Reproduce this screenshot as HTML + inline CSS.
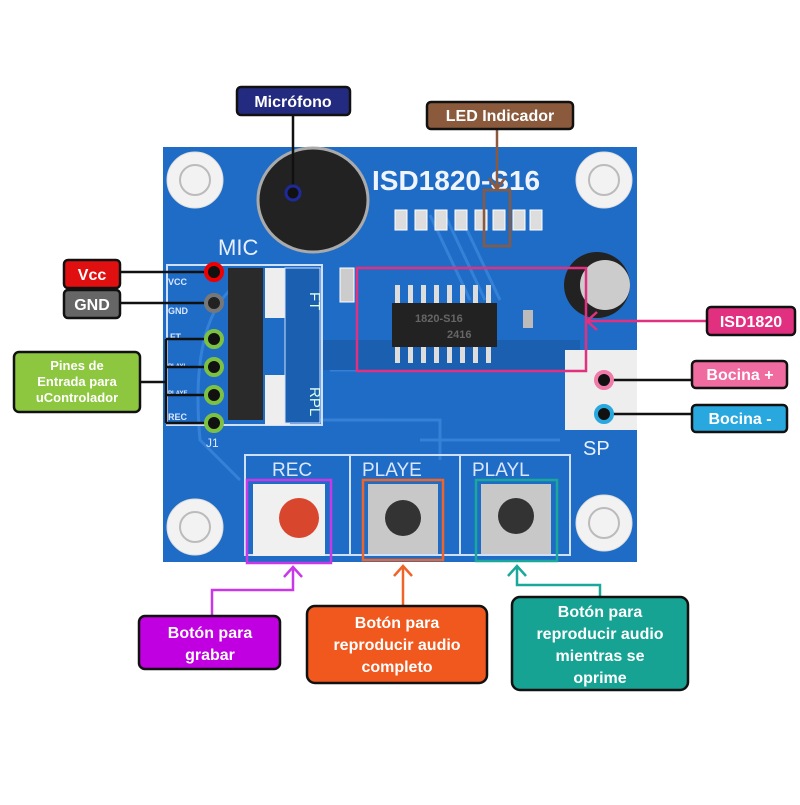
<!DOCTYPE html>
<html><head><meta charset="utf-8"><style>
html,body{margin:0;padding:0;background:#fff;}
svg text{font-family:"Liberation Sans",sans-serif;font-weight:bold;}
</style></head><body>
<svg width="800" height="800" viewBox="0 0 800 800" xmlns="http://www.w3.org/2000/svg">
<rect width="800" height="800" fill="#fff"/>
<!-- board -->
<rect x="163" y="147" width="474" height="415" fill="#1f6cc6"/>
<g fill="none" stroke="#3e8ae0" stroke-width="3" opacity="0.7">
<path d="M230 290 Q190 330 200 440 L240 480"/>
<path d="M300 420 L440 420 L440 460"/>
<path d="M420 440 L560 440"/>
<path d="M330 370 L560 370"/>
<path d="M430 215 L470 300"/><path d="M445 215 L485 300"/><path d="M460 215 L500 300"/>
</g>
<rect x="300" y="340" width="280" height="30" fill="#1a5fb0"/>
<!-- holes -->
<g fill="#f2f2f2" stroke="#ddd"><circle cx="195" cy="180" r="28"/><circle cx="604" cy="180" r="28"/><circle cx="195" cy="527" r="28"/><circle cx="604" cy="523" r="28"/></g>
<g fill="none" stroke="#bbb" stroke-width="2"><circle cx="195" cy="180" r="15"/><circle cx="604" cy="180" r="15"/><circle cx="195" cy="527" r="15"/><circle cx="604" cy="523" r="15"/></g>
<!-- mic -->
<ellipse cx="313" cy="200" rx="55" ry="52" fill="#222" stroke="#aaa" stroke-width="3"/>
<text x="218" y="255" fill="#e8f0ff" font-size="22" font-weight="normal" style="font-weight:normal">MIC</text>
<text x="372" y="190" fill="#f0f4ff" font-size="28">ISD1820-S16</text>
<!-- resistors -->
<g fill="#ddd" stroke="#fff"><rect x="395" y="210" width="12" height="20"/><rect x="415" y="210" width="12" height="20"/><rect x="435" y="210" width="12" height="20"/><rect x="455" y="210" width="12" height="20"/><rect x="475" y="210" width="12" height="20"/><rect x="493" y="210" width="12" height="20"/><rect x="513" y="210" width="12" height="20"/><rect x="530" y="210" width="12" height="20"/></g>
<!-- capacitor -->
<circle cx="597" cy="285" r="33" fill="#222"/><circle cx="605" cy="285" r="25" fill="#ccc"/>
<rect x="340" y="268" width="14" height="34" fill="#ccc" stroke="#fff"/>
<rect x="523" y="310" width="10" height="18" fill="#bbb"/>
<!-- chip -->
<g fill="#ddd"><rect x="395" y="285" width="5" height="20"/><rect x="408" y="285" width="5" height="20"/><rect x="421" y="285" width="5" height="20"/><rect x="434" y="285" width="5" height="20"/><rect x="447" y="285" width="5" height="20"/><rect x="460" y="285" width="5" height="20"/><rect x="473" y="285" width="5" height="20"/><rect x="486" y="285" width="5" height="20"/>
<rect x="395" y="345" width="5" height="18"/><rect x="408" y="345" width="5" height="18"/><rect x="421" y="345" width="5" height="18"/><rect x="434" y="345" width="5" height="18"/><rect x="447" y="345" width="5" height="18"/><rect x="460" y="345" width="5" height="18"/><rect x="473" y="345" width="5" height="18"/><rect x="486" y="345" width="5" height="18"/></g>
<rect x="392" y="303" width="105" height="44" fill="#222"/>
<text x="415" y="322" fill="#666" font-size="11">1820-S16</text><text x="447" y="338" fill="#666" font-size="11">2416</text>
<!-- header -->
<rect x="167" y="265" width="155" height="160" fill="none" stroke="#cfe0ff" stroke-width="2"/>
<rect x="228" y="268" width="35" height="152" fill="#2a2a2a"/>
<rect x="265" y="268" width="25" height="50" fill="#eee"/><rect x="265" y="375" width="25" height="50" fill="#eee"/>
<rect x="285" y="268" width="35" height="155" fill="#1a5fb0" stroke="#cfe0ff"/>
<text x="292" y="290" fill="#dfe" font-size="15" transform="rotate(90 300 300)" style="font-weight:normal">FT</text>
<text x="292" y="385" fill="#dfe" font-size="15" transform="rotate(90 300 395)" style="font-weight:normal">RPL</text>
<g fill="#dbe7ff" font-size="9"><text x="168" y="285">VCC</text><text x="168" y="314">GND</text><text x="170" y="340">FT</text><text x="168" y="368" font-size="6">PLAYL</text><text x="168" y="395" font-size="6">PLAYE</text><text x="168" y="420">REC</text></g>
<text x="206" y="447" fill="#dbe7ff" font-size="12" style="font-weight:normal">J1</text>
<!-- speaker conn -->
<rect x="565" y="350" width="72" height="80" fill="#eee"/>
<text x="583" y="455" fill="#e8f0ff" font-size="20" style="font-weight:normal">SP</text>
<!-- button area -->
<rect x="245" y="455" width="325" height="100" fill="none" stroke="#cfe0ff" stroke-width="2"/>
<line x1="350" y1="455" x2="350" y2="555" stroke="#cfe0ff" stroke-width="2"/><line x1="460" y1="455" x2="460" y2="555" stroke="#cfe0ff" stroke-width="2"/>
<g fill="#dbe7ff" font-size="19" style="font-weight:normal"><text x="272" y="476" style="font-weight:normal">REC</text><text x="362" y="476" style="font-weight:normal">PLAYE</text><text x="472" y="476" style="font-weight:normal">PLAYL</text></g>
<rect x="253" y="484" width="72" height="72" fill="#f0f0f0"/><circle cx="299" cy="518" r="20" fill="#d9462e"/>
<rect x="368" y="484" width="70" height="70" fill="#c8c8c8"/><circle cx="403" cy="518" r="18" fill="#333"/>
<rect x="481" y="484" width="70" height="70" fill="#c8c8c8"/><circle cx="516" cy="516" r="18" fill="#333"/>
<!-- highlight rects -->
<rect x="247" y="480" width="84" height="83" fill="none" stroke="#c838e8" stroke-width="2.5"/>
<rect x="363" y="480" width="80" height="80" fill="none" stroke="#ef6428" stroke-width="2.5"/>
<rect x="476" y="480" width="81" height="81" fill="none" stroke="#1aa89a" stroke-width="2.5"/>
<rect x="357" y="268" width="229" height="103" fill="none" stroke="#e0307f" stroke-width="2.5"/>
<rect x="484" y="190" width="26" height="56" fill="none" stroke="#8b5a3c" stroke-width="2.5"/>
<!-- connectors -->
<line x1="293" y1="115" x2="293" y2="193" stroke="#111" stroke-width="2.5"/>
<circle cx="293" cy="193" r="7" fill="#111" stroke="#1f2a9a" stroke-width="3"/>
<line x1="497" y1="129" x2="497" y2="190" stroke="#8b5a3c" stroke-width="2.5"/>
<path d="M489 178 L497 189 L505 178" fill="none" stroke="#8b5a3c" stroke-width="2.5"/>
<line x1="120" y1="272" x2="214" y2="272" stroke="#111" stroke-width="2.5"/>
<circle cx="214" cy="272" r="8" fill="#111" stroke="#e00" stroke-width="4"/>
<line x1="120" y1="303" x2="214" y2="303" stroke="#111" stroke-width="2.5"/>
<circle cx="214" cy="303" r="8" fill="#222" stroke="#777" stroke-width="4"/>
<path d="M140 382 L166 382 M166 339 L214 339 M166 367 L214 367 M166 395 L214 395 M166 423 L214 423 M166 339 L166 423" fill="none" stroke="#111" stroke-width="2.5"/>
<g fill="#111" stroke="#7cc142" stroke-width="4"><circle cx="214" cy="339" r="8"/><circle cx="214" cy="367" r="8"/><circle cx="214" cy="395" r="8"/><circle cx="214" cy="423" r="8"/></g>
<line x1="586" y1="321" x2="707" y2="321" stroke="#e0307f" stroke-width="2.5"/>
<path d="M597 312 L587 321 L597 330" fill="none" stroke="#e0307f" stroke-width="2.5"/>
<line x1="604" y1="380" x2="692" y2="380" stroke="#111" stroke-width="2.5"/>
<circle cx="604" cy="380" r="8" fill="#111" stroke="#f07aa8" stroke-width="4"/>
<line x1="604" y1="414" x2="692" y2="414" stroke="#111" stroke-width="2.5"/>
<circle cx="604" cy="414" r="8" fill="#111" stroke="#29a8e0" stroke-width="4"/>
<path d="M293 568 L293 590 L212 590 L212 616" fill="none" stroke="#c838e8" stroke-width="2.5"/>
<path d="M284 577 L293 567 L302 577" fill="none" stroke="#c838e8" stroke-width="2.5"/>
<path d="M403 566 L403 606" fill="none" stroke="#ef6428" stroke-width="2.5"/>
<path d="M394 576 L403 566 L412 576" fill="none" stroke="#ef6428" stroke-width="2.5"/>
<path d="M517 566 L517 585 L600 585 L600 597" fill="none" stroke="#1aa89a" stroke-width="2.5"/>
<path d="M508 576 L517 566 L526 576" fill="none" stroke="#1aa89a" stroke-width="2.5"/>
<!-- label boxes -->
<g stroke="#111" stroke-width="2.5">
<rect x="237" y="87" width="113" height="28" rx="4" fill="#232b80"/>
<rect x="427" y="102" width="146" height="27" rx="4" fill="#8b5a3c"/>
<rect x="64" y="260" width="56" height="28" rx="4" fill="#e01010"/>
<rect x="64" y="290" width="56" height="28" rx="4" fill="#666"/>
<rect x="14" y="352" width="126" height="60" rx="5" fill="#8dc63f"/>
<rect x="707" y="307" width="88" height="28" rx="4" fill="#e0307f"/>
<rect x="692" y="361" width="95" height="27" rx="4" fill="#f06ba0"/>
<rect x="692" y="405" width="95" height="27" rx="4" fill="#29a8e0"/>
<rect x="139" y="616" width="141" height="53" rx="6" fill="#c000e0"/>
<rect x="307" y="606" width="180" height="77" rx="8" fill="#f0581e"/>
<rect x="512" y="597" width="176" height="93" rx="8" fill="#16a393"/>
</g>
<g fill="#fff" text-anchor="middle" font-size="16">
<text x="293" y="107">Micrófono</text>
<text x="500" y="121">LED Indicador</text>
<text x="92" y="280">Vcc</text>
<text x="92" y="310">GND</text>
<text x="77" y="370" font-size="13">Pines de</text><text x="77" y="386" font-size="13">Entrada para</text><text x="77" y="402" font-size="13">uControlador</text>
<text x="751" y="327">ISD1820</text>
<text x="740" y="380">Bocina +</text>
<text x="740" y="424">Bocina -</text>
<text x="210" y="638">Botón para</text><text x="210" y="660">grabar</text>
<text x="397" y="628">Botón para</text><text x="397" y="650">reproducir audio</text><text x="397" y="672">completo</text>
<text x="600" y="617">Botón para</text><text x="600" y="639">reproducir audio</text><text x="600" y="661">mientras se</text><text x="600" y="683">oprime</text>
</g>
</svg>
</body></html>
